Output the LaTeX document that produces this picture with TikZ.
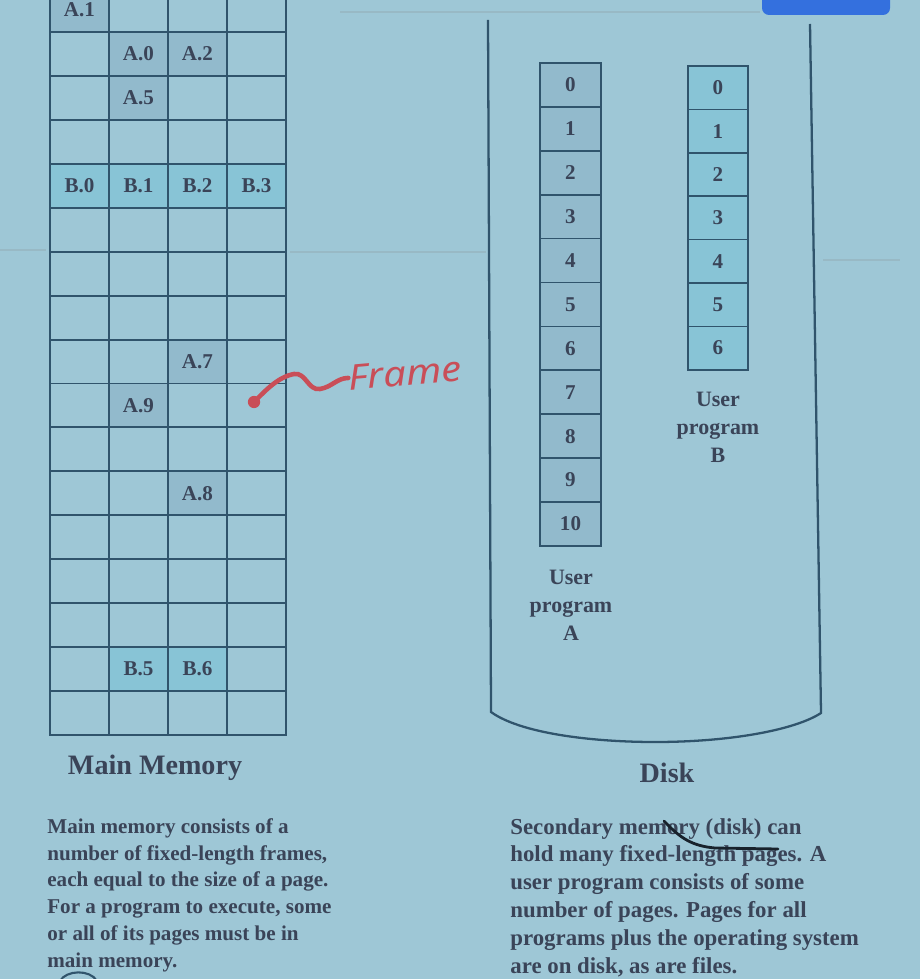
\documentclass[tikz,border=0pt]{standalone}
\usepackage{fontspec}
\setmainfont{Liberation Serif}
\newfontfamily\handfont{Noto Sans}

\definecolor{slide}{RGB}{158,199,214}
\definecolor{grid}{RGB}{48,84,108}
\definecolor{ink}{RGB}{58,68,88}
\definecolor{pageA}{RGB}{146,186,204}
\definecolor{pageB}{RGB}{136,196,214}
\definecolor{pen}{RGB}{201,78,88}
\definecolor{marker}{RGB}{24,34,44}
\definecolor{button}{RGB}{52,112,222}
\newcommand*{\colW}{59}
\newcommand*{\rowH}{43.94}
\newcommand*{\memX}{50}
\newcommand*{\memY}{-11.94}
\newcommand*{\memRows}{16}
\newcommand*{\pageW}{61}
\newcommand*{\stackAx}{540}
\newcommand*{\stackAy}{63}
\newcommand*{\pageHA}{43.9}
\newcommand*{\stackBx}{688}
\newcommand*{\stackBy}{66}
\newcommand*{\pageHB}{43.4}

\begin{document}
\begin{tikzpicture}[x=0.02cm, y=-0.02cm,
    memline/.style={draw=grid, line width=1.1pt},
    pageline/.style={draw=grid, line width=1pt},
    cell/.style={text=ink, inner sep=0, font=\bfseries\fontsize{12}{14}\selectfont},
    caption/.style={text=ink, inner sep=0, font=\bfseries\fontsize{16}{19}\selectfont},
    pglabel/.style={text=ink, inner sep=0, align=center, font=\bfseries\fontsize{12.5}{15.9}\selectfont},
    para/.style={text=ink, inner sep=0, align=left, anchor=north west, font=\bfseries\fontsize{12}{15.3}\selectfont},
    penline/.style={draw=pen, line width=2.6pt, line cap=round},
    glare/.style={draw=slide!80!gray, line width=1pt}]

    \useasboundingbox (0,0) rectangle (920,979);
    \clip (0,0) rectangle (920,979);
    \fill[slide] (0,0) rectangle (920,979);

    % faint marks of the projected screen
    \draw[glare] (0,250) -- (46,250);
    \draw[glare] (290,252) -- (486,252);
    \draw[glare] (823,260) -- (900,260);
    \draw[glare] (340,12) -- (760,12);
    \fill[button, rounded corners=4] (762,-10) rectangle (890,15);

    % main memory
    \begin{scope}
        \foreach \r/\c/\lbl/\fillc in {0/0/A.1/pageA, 1/1/A.0/pageA, 1/2/A.2/pageA, 2/1/A.5/pageA,
                4/0/B.0/pageB, 4/1/B.1/pageB, 4/2/B.2/pageB, 4/3/B.3/pageB,
                8/2/A.7/pageA, 9/1/A.9/pageA, 11/2/A.8/pageA, 15/1/B.5/pageB, 15/2/B.6/pageB} {
            \fill[\fillc] (\memX+\c*\colW,\memY+\r*\rowH) rectangle (\memX+\c*\colW+\colW,\memY+\r*\rowH+\rowH) node [pos=.5, cell] (mm-\r-\c) {\lbl};
        }
        \foreach \r in {0,...,\memRows} {
            \foreach \c in {0,...,3} {
                \draw [memline] (\memX+\c*\colW,\memY+\r*\rowH) rectangle (\memX+\c*\colW+\colW,\memY+\r*\rowH+\rowH);
            }
        }
        \draw [memline, line width=1.5pt] (\memX,\memY) rectangle (\memX+4*\colW,\memY+17*\rowH);
    \end{scope}

    \node[caption] (memcap) at (155,768) {Main Memory};

    % disk
    \draw [draw=grid, line width=1.3pt] (488,20) -- (491,712) .. controls (520,733) and (590,742) .. (655,742)
        .. controls (730,742) and (795,730) .. (821,713) -- (810,24);

    \begin{scope}
        \foreach \i in {0,...,10} {
            \draw [pageline, fill=pageA] (\stackAx,\stackAy+\i*\pageHA) rectangle (\stackAx+\pageW,\stackAy+\i*\pageHA+\pageHA) node [pos=.5, cell] (pa-\i) {\i};
        }
    \end{scope}

    \begin{scope}
        \foreach \i in {0,...,6} {
            \draw [pageline, fill=pageB] (\stackBx,\stackBy+\i*\pageHB) rectangle (\stackBx+\pageW-1,\stackBy+\i*\pageHB+\pageHB) node [pos=.5, cell] (pb-\i) {\i};
        }
    \end{scope}

    \node[pglabel] (progA) at (571,605) {User\\program\\A};
    \node[pglabel] (progB) at (718,427) {User\\program\\B};
    \node[caption] (diskcap) at (667,773) {Disk};

    % text under the pictures
    \node[para] (memtext) at (47,818) {Main memory consists of a\\number of fixed-length frames,\\each equal to the size of a page.\\For a program to execute, some\\or all of its pages must be in\\main memory.};
    \node[para, font=\bfseries\fontsize{13}{15.8}\selectfont] (disktext) at (510,818) {Secondary memory (disk) can\\hold many fixed-length pages. A\\user program consists of some\\number of pages. Pages for all\\programs plus the operating system\\are on disk, as are files.};

    % pen notes
    \node[circle, fill=pen, inner sep=0, minimum size=7pt] (framedot) at (254,402) {};
    \node[text=pen, inner sep=0, rotate=5, xscale=1.15, font=\handfont\itshape\fontsize{20}{20}\selectfont] (frametext) at (405,373) {Frame};
    \draw[penline] (framedot.center) .. controls (266,390) and (278,377) .. (294,374)
        .. controls (306,372) and (308,391) .. (320,389) .. controls (332,387) and (337,378) .. (frametext.west);

    \draw[marker, line width=1.6pt, line cap=round] (664,821) .. controls (680,838) and (692,846) .. (715,848) -- (778,849);
    \draw[grid, line width=1.2pt] (60,981) .. controls (66,970) and (90,969) .. (97,981);

\end{tikzpicture}
\end{document}
